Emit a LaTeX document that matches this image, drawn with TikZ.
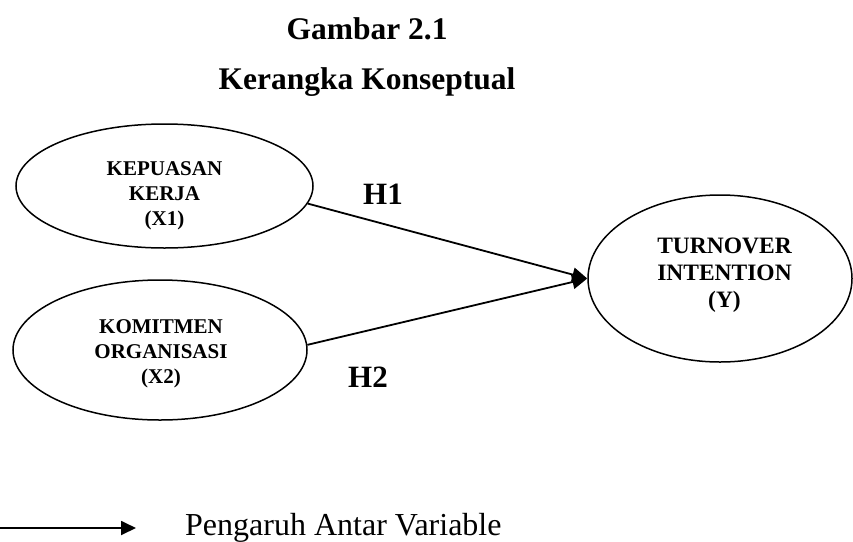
\documentclass[tikz,border=0pt]{standalone}
\usepackage{fontspec}
\setmainfont{Liberation Serif}
\usetikzlibrary{arrows.meta,shapes.geometric}
\begin{document}
\begin{tikzpicture}[x=1pt,y=-1pt,
  var/.style={draw, ellipse, line width=1.5pt, inner sep=0pt},
  vlabel/.style={align=center, inner sep=0pt, anchor=north, font=\bfseries\fontsize{21}{25}\selectfont},
  vlabelbig/.style={align=center, inner sep=0pt, anchor=north, font=\bfseries\fontsize{23.5}{27}\selectfont},
  conn/.style={line width=1.8pt, -{Triangle[length=15pt,width=14pt]}},
  titletext/.style={font=\bfseries\fontsize{31.5}{38}\selectfont, anchor=base, inner sep=0pt},
  hyp/.style={font=\bfseries\fontsize{31}{38}\selectfont, anchor=base west, inner sep=0pt},
  legendtext/.style={font=\fontsize{32}{38}\selectfont, anchor=base west, inner sep=0pt}]
\useasboundingbox (0,0) rectangle (853,541);

\node[titletext] (t1) at (367,39) {Gambar 2.1};
\node[titletext] (t2) at (367,89) {Kerangka Konseptual};

\node[var, minimum width=297pt, minimum height=124pt] (x1) at (164.5,186) {};
\node[vlabel] (x1t) at (164.5,161) {KEPUASAN\\KERJA\\(X1)};

\node[var, minimum width=294pt, minimum height=140pt] (x2) at (160,350) {};
\node[vlabel] (x2t) at (161,319) {KOMITMEN\\ORGANISASI\\(X2)};

\node[var, minimum width=264pt, minimum height=167pt] (y) at (720,278.5) {};
\node[vlabelbig] (yt) at (724.5,238) {TURNOVER\\INTENTION\\(Y)};

\draw[conn] (x1.-7) -- (y.west);
\draw[conn] (x2.2) -- (y.west);

\node[hyp] (h1) at (363,204) {H1};
\node[hyp] (h2) at (348,387) {H2};

\coordinate (l0) at (0,528);
\coordinate (l1) at (136,528);
\draw[conn] (l0) -- (l1);
\node[legendtext] (lg) at (185,535) {Pengaruh Antar Variable};
\end{tikzpicture}
\end{document}
